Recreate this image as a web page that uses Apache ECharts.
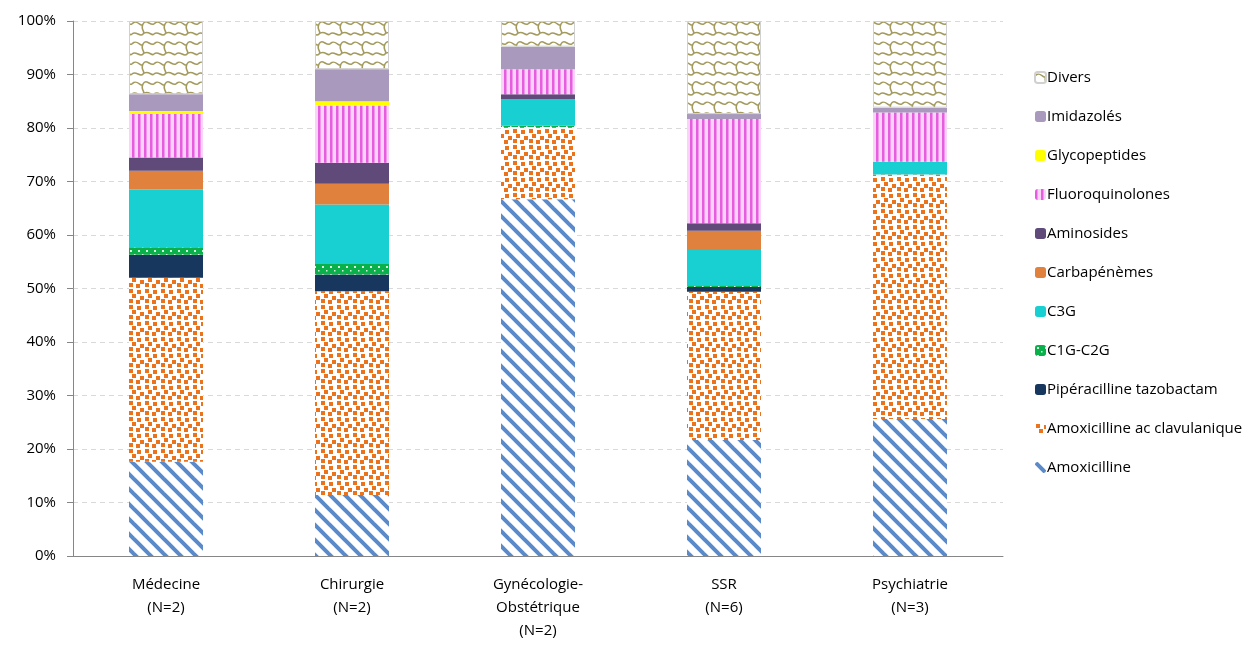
<!DOCTYPE html>
<html>
<head>
<meta charset="utf-8">
<script src="https://cdn.jsdelivr.net/npm/echarts@6/dist/echarts.min.js"></script>
<style>
  html, body { margin: 0; padding: 0; background: #fff; }
  #chart { width: 1258px; height: 645px; }
</style>
</head>
<body>
<div id="chart"></div>
<script>
// services
var categories = ['Médecine\n(N=2)', 'Chirurgie\n(N=2)', 'Gynécologie-\nObstétrique\n(N=2)', 'SSR\n(N=6)', 'Psychiatrie\n(N=3)'];

// parts en % par famille d'antibiotiques
var amoxicilline   = [17.6, 11.4, 66.7, 21.7, 25.6];
var amoxClav       = [34.4, 38.1, 13.5, 27.7, 45.7];
var piperacilline  = [4.3, 3.1, 0, 0.9, 0];
var c1gC2g         = [1.4, 2.0, 0.2, 0.3, 0];
var c3g            = [10.8, 11.1, 5.0, 6.6, 2.4];
var carbapenemes   = [3.5, 3.9, 0, 3.6, 0];
var aminosides     = [2.5, 3.9, 0.9, 1.4, 0];
var fluoro         = [8.1, 10.7, 4.7, 19.5, 9.2];
var glycopeptides  = [0.6, 0.8, 0, 0, 0];
var imidazoles     = [3.1, 6.0, 4.2, 0.9, 0.9];
var divers         = [13.7, 9.0, 4.8, 17.4, 16.2];

var yTicks = [0, 10, 20, 30, 40, 50, 60, 70, 80, 90, 100];

// motifs de remplissage
function tile(w, h, draw) {
    var c = document.createElement('canvas');
    c.width = w; c.height = h;
    draw(c.getContext('2d'), w, h);
    return { image: c, repeat: 'repeat' };
}

var stripeDiag = tile(15, 15, function (ctx, w, h) {
    ctx.fillStyle = '#fff'; ctx.fillRect(0, 0, w, h);
    ctx.strokeStyle = '#5a8ac9'; ctx.lineWidth = 4;
    for (var k = -1; k <= 1; k++) {
        ctx.beginPath();
        ctx.moveTo(k * w - w, -h); ctx.lineTo(k * w + 2 * w, 2 * h);
        ctx.stroke();
    }
});

var orangeDots = tile(16, 16, function (ctx, w, h) {
    ctx.fillStyle = '#fff'; ctx.fillRect(0, 0, w, h);
    ctx.fillStyle = '#eb731c';
    var pts = [[1, 1], [9, 2], [4, 6], [12, 8], [1, 11], [8, 12]];
    pts.forEach(function (p) { ctx.fillRect(p[0], p[1], 4, 4); });
});

var greenDots = tile(8, 8, function (ctx, w, h) {
    ctx.fillStyle = '#0ab14a'; ctx.fillRect(0, 0, w, h);
    ctx.fillStyle = '#d8f5e0';
    ctx.fillRect(2, 2, 2, 2);
    ctx.fillRect(6, 6, 1.5, 1.5);
});

var pinkStripes = tile(6, 6, function (ctx, w, h) {
    ctx.fillStyle = '#fbd2f8'; ctx.fillRect(0, 0, w, h);
    ctx.fillStyle = '#e65de0'; ctx.fillRect(0, 0, 2.5, h);
});

var wavy = tile(22, 20, function (ctx, w, h) {
    ctx.fillStyle = '#fff'; ctx.fillRect(0, 0, w, h);
    ctx.strokeStyle = '#a39a5e'; ctx.lineWidth = 1.6;
    for (var dx = -w; dx <= w; dx += w) {
        for (var dy = -h; dy <= h; dy += h) {
            ctx.beginPath();
            ctx.moveTo(dx + 0, dy + 4);
            ctx.bezierCurveTo(dx + 5, dy - 2, dx + 9, dy + 8, dx + 11, dy + 4);
            ctx.bezierCurveTo(dx + 14, dy - 2, dx + 18, dy + 6, dx + 22, dy + 4);
            ctx.moveTo(dx + 11, dy + 4);
            ctx.bezierCurveTo(dx + 8, dy + 10, dx + 14, dy + 12, dx + 11, dy + 14);
            ctx.bezierCurveTo(dx + 16, dy + 9, dx + 20, dy + 17, dx + 22, dy + 14);
            ctx.moveTo(dx + 0, dy + 14);
            ctx.bezierCurveTo(dx + 4, dy + 10, dx + 8, dy + 18, dx + 11, dy + 14);
            ctx.stroke();
        }
    }
});

var seriesDefs = [
    { name: 'Amoxicilline', data: amoxicilline, color: stripeDiag },
    { name: 'Amoxicilline ac clavulanique', data: amoxClav, color: orangeDots },
    { name: 'Pipéracilline tazobactam', data: piperacilline, color: '#17375e' },
    { name: 'C1G-C2G', data: c1gC2g, color: greenDots },
    { name: 'C3G', data: c3g, color: '#18cfd2' },
    { name: 'Carbapénèmes', data: carbapenemes, color: '#e0823e' },
    { name: 'Aminosides', data: aminosides, color: '#5f4a7a' },
    { name: 'Fluoroquinolones', data: fluoro, color: pinkStripes },
    { name: 'Glycopeptides', data: glycopeptides, color: '#ffff00' },
    { name: 'Imidazolés', data: imidazoles, color: '#a899bd' },
    { name: 'Divers', data: divers, color: wavy, border: '#d0d0d0' }
];

var font = '"Open Sans", "Liberation Sans", sans-serif';

var option = {
    animation: false,
    textStyle: { fontFamily: font },
    grid: { left: 73, right: 255, top: 21, bottom: 89 },
    legend: {
        orient: 'vertical',
        left: 1029,
        top: 64,
        itemWidth: 11,
        itemHeight: 11,
        itemGap: 22,
        data: seriesDefs.map(function (s) { return s.name; }).reverse(),
        textStyle: { fontFamily: font, fontSize: 15, color: '#000', lineHeight: 17, padding: [0, 0, 0, -4] }
    },
    xAxis: {
        type: 'category',
        data: categories,
        axisLine: { lineStyle: { color: '#868686' } },
        axisTick: { length: 7, lineStyle: { color: '#868686' } },
        axisLabel: { fontFamily: font, fontSize: 15, color: '#000', lineHeight: 23, margin: 17 }
    },
    yAxis: {
        type: 'value',
        min: yTicks[0],
        max: yTicks[yTicks.length - 1],
        interval: 10,
        axisLine: { show: true, lineStyle: { color: '#868686' } },
        axisTick: { show: true, length: 6, lineStyle: { color: '#868686' } },
        axisLabel: { fontFamily: font, fontSize: 15, color: '#000', margin: 17, formatter: '{value}%' },
        splitLine: { lineStyle: { color: '#d9d9d9', type: [5, 4] } }
    },
    series: seriesDefs.map(function (s) {
        return {
            name: s.name,
            type: 'bar',
            stack: 'total',
            barWidth: 74,
            data: s.data,
            itemStyle: {
                color: s.color,
                borderColor: s.border || null,
                borderWidth: s.border ? 1 : 0
            }
        };
    })
};

var myChart = echarts.init(document.getElementById('chart'));
myChart.setOption(option);
</script>
</body>
</html>
